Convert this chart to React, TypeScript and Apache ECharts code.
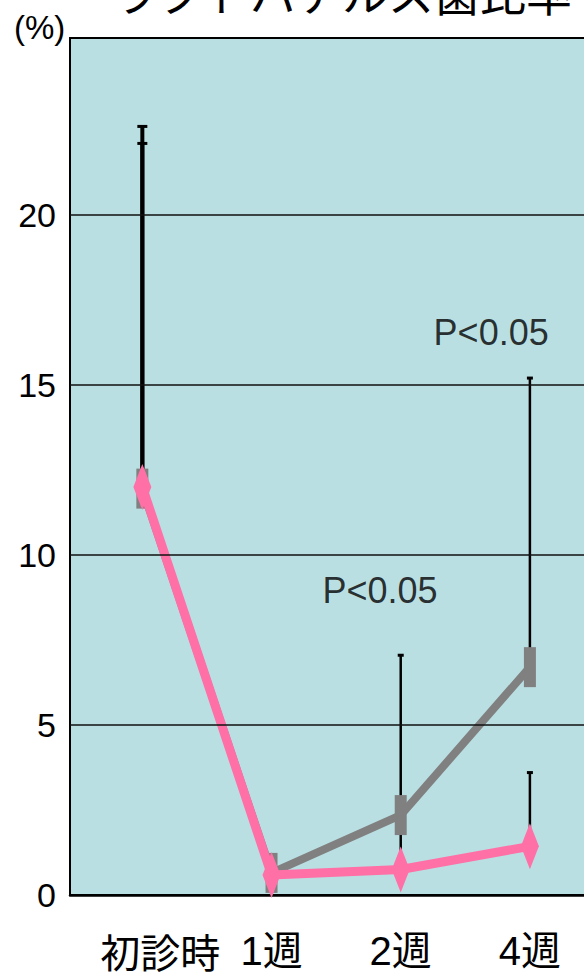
import React, { useEffect, useRef } from "react";
import * as echarts from "echarts";

const categories = ["初診時", "1週", "2週", "4週"];
const grayMean = [11.95, 0.65, 2.35, 6.7];
const grayUpper: (number | null)[] = [22.6, null, 7.05, 15.2];
const pinkMean = [12.0, 0.59, 0.75, 1.43];
const pinkUpper: (number | null)[] = [22.1, null, 2.6, 3.6];
const yTickValues = [0, 5, 10, 15, 20];
const gridValues = [5, 10, 15, 20];
const pNotes = [
  { x: 1.84, y: 8.94, text: "P<0.05" },
  { x: 2.7, y: 16.54, text: "P<0.05" },
];
const titleText = "ラクトバチルス菌比率";
const unitText = "(%)";

const LATIN = "'Liberation Sans', Arial, 'Noto Sans CJK JP', sans-serif";
const NARROW = "'Liberation Sans Narrow', 'Liberation Sans', Arial, sans-serif";
const CJK = "'Noto Sans CJK JP', sans-serif";

export default function App() {
  const ref = useRef<HTMLDivElement>(null);
  useEffect(() => {
    if (!ref.current) return;
    const chart = echarts.init(ref.current, undefined, { renderer: "svg" });

    const errData: number[][] = [];
    grayMean.forEach((m, i) => {
      const u = grayUpper[i];
      if (u != null) errData.push([i, m, u]);
    });
    pinkMean.forEach((m, i) => {
      const u = pinkUpper[i];
      if (u != null) errData.push([i, m, u]);
    });

    const option: any = {
      animation: false,
      backgroundColor: "#ffffff",
      grid: {
        left: 70,
        top: 38,
        bottom: 80,
        width: 540,
        outerBoundsMode: "none",
        containLabel: false,
        show: true,
        backgroundColor: "#badfe3",
        borderColor: "#000",
        borderWidth: 2,
      },
      xAxis: {
        type: "value",
        min: -0.56,
        max: 3.62,
        splitLine: { show: false },
        axisTick: { show: false },
        axisLine: { show: true, onZero: false, lineStyle: { color: "#000", width: 2.5 } },
        axisLabel: {
          customValues: [0, 1, 2, 3],
          margin: 35,
          fontSize: 40,
          lineHeight: 42,
          color: "#000",
          fontFamily: LATIN,
          formatter: (v: number) => {
            const i = Math.round(v);
            return i === 0 ? "{a|" + categories[0] + "}" : categories[i];
          },
          rich: {
            a: {
              padding: [0, 0, 0, 36],
              fontSize: 40,
              lineHeight: 42,
              color: "#000",
              fontFamily: CJK,
            },
          },
        },
      },
      yAxis: {
        type: "value",
        min: 0,
        max: 25.2,
        splitLine: { show: false },
        axisTick: { show: false },
        axisLine: { show: true, onZero: false, lineStyle: { color: "#000", width: 2 } },
        axisLabel: {
          customValues: yTickValues,
          margin: 14,
          fontSize: 34,
          color: "#000",
          fontFamily: LATIN,
        },
      },
      graphic: [
        {
          type: "text",
          x: 112,
          y: 14,
          style: {
            text: titleText,
            fontSize: 46,
            fontFamily: CJK,
            fill: "#000",
            verticalAlign: "bottom",
          },
        },
        {
          type: "text",
          x: 14,
          y: 11,
          style: {
            text: unitText,
            fontSize: 33,
            fontFamily: NARROW,
            fill: "#000",
          },
        },
      ],
      series: [
        {
          type: "line",
          data: [],
          silent: true,
          z: 1,
          markLine: {
            silent: true,
            symbol: "none",
            label: { show: false },
            lineStyle: { color: "#111", width: 1.5, type: "solid" },
            data: gridValues.map((v) => ({ yAxis: v })),
          },
        },
        {
          type: "custom",
          z: 2,
          data: errData,
          encode: { x: 0, y: [1, 2] },
          renderItem: (params: any, api: any) => {
            const x = api.value(0);
            const m = api.value(1);
            const u = api.value(2);
            const p0 = api.coord([x, m]);
            const p1 = api.coord([x, u]);
            const thick = x === 0;
            const half = thick ? 5 : 3;
            return {
              type: "group",
              children: [
                {
                  type: "line",
                  shape: { x1: p0[0], y1: p0[1], x2: p1[0], y2: p1[1] },
                  style: { stroke: "#000", lineWidth: thick ? 4 : 2.5 },
                },
                {
                  type: "line",
                  shape: { x1: p1[0] - half, y1: p1[1], x2: p1[0] + half, y2: p1[1] },
                  style: { stroke: "#000", lineWidth: 3 },
                },
              ],
            };
          },
        },
        {
          type: "line",
          z: 3,
          data: grayMean.map((v, i) => [i, v]),
          lineStyle: { color: "#808080", width: 8 },
          itemStyle: { color: "#808080" },
          symbol: "rect",
          symbolSize: [12, 40],
          showAllSymbol: true,
        },
        {
          type: "line",
          z: 4,
          data: pinkMean.map((v, i) => [i, v]),
          lineStyle: { color: "#ff70a6", width: 9 },
          itemStyle: { color: "#ff70a6" },
          symbol: "diamond",
          symbolSize: [18, 46],
          showAllSymbol: true,
        },
        {
          type: "scatter",
          z: 5,
          symbolSize: 0,
          data: pNotes.map((n) => ({ value: [n.x, n.y], name: n.text })),
          label: {
            show: true,
            position: "inside",
            formatter: (p: any) => p.name,
            fontSize: 36,
            color: "#000",
            textBorderWidth: 0,
            fontFamily: LATIN,
          },
        },
      ],
    };
    chart.setOption(option);
    return () => chart.dispose();
  }, []);
  return (
    <div
      ref={ref}
      style={{ position: "fixed", left: 0, top: 0, width: 584, height: 975 }}
    />
  );
}
